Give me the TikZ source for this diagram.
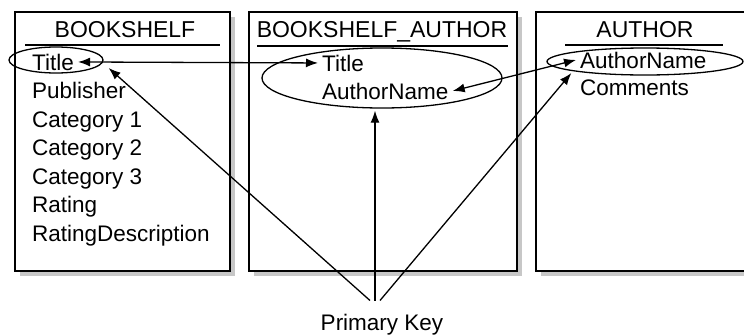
\documentclass[tikz,border=0pt]{standalone}
\usepackage{fontspec}
\setmainfont{Liberation Sans}
\usepackage{tikz}
\usetikzlibrary{shapes.geometric, arrows.meta, shadows}

\begin{document}
\begin{tikzpicture}[
    x=1pt, y=-1pt,
    tablebox/.style={rectangle, draw, line width=1.5pt, fill=white, minimum height=259pt,
        drop shadow={shadow xshift=5pt, shadow yshift=-5pt, fill=black!22, opacity=1}},
    header/.style={anchor=base, inner sep=0pt, font=\fontsize{23}{27}\selectfont},
    field/.style={anchor=base west, inner sep=4pt, font=\fontsize{22.5}{27}\selectfont},
    keyring/.style={ellipse, draw, line width=1.3pt, inner sep=0pt},
    rule/.style={line width=1.5pt},
    arrow/.style={-{Latex[length=12pt,width=9pt]}, line width=1.3pt},
    biarrow/.style={{Latex[length=12pt,width=9pt]}-{Latex[length=12pt,width=9pt]}, line width=1.3pt}
]
\useasboundingbox (0,0) rectangle (744,335);
\clip (0,0) rectangle (744,335);

% Tables
\node[tablebox, minimum width=215pt] (bookshelf) at (122.5,141.5) {};
\node[tablebox, minimum width=268pt] (bsauthor) at (383,141.5) {};
\node[tablebox, minimum width=216pt] (author) at (644,141.5) {};

% Table headers
\node[header] (hBookshelf) at (125,37) {BOOKSHELF};
\node[header] (hBsAuthor) at (382,37) {BOOKSHELF\_AUTHOR};
\node[header] (hAuthor) at (645,37) {AUTHOR};
\draw[rule] (25,45) -- (220,45);
\draw[rule] (257,46) -- (508,46);
\draw[rule] (565,45) -- (723,45);

% Key rings
\node[keyring, minimum width=94pt, minimum height=26pt] (keyBS) at (56,60) {};
\node[keyring, minimum width=240pt, minimum height=60pt] (keyBA) at (382,78) {};
\node[keyring, minimum width=196pt, minimum height=27pt] (keyAU) at (645,61.5) {};

% BOOKSHELF fields
\node[field] (bsTitle) at (28,70) {Title};
\node[field] (bsPublisher) at (28,98.5) {Publisher};
\node[field] (bsCat1) at (28,127) {Category 1};
\node[field] (bsCat2) at (28,155.5) {Category 2};
\node[field] (bsCat3) at (28,184) {Category 3};
\node[field] (bsRating) at (28,212.5) {Rating};
\node[field] (bsRatingDesc) at (28,241) {RatingDescription};

% BOOKSHELF_AUTHOR fields
\node[field] (baTitle) at (318,71) {Title};
\node[field] (baAuthor) at (318,99) {AuthorName};

% AUTHOR fields
\node[field] (auAuthor) at (576,68) {AuthorName};
\node[field] (auComments) at (576,95) {Comments};

% Links between tables
\draw[biarrow] (bsTitle.east) -- (baTitle.west);
\draw[biarrow] (baAuthor.east) -- (auAuthor.west);

% Primary key
\node[field, anchor=base] (pk) at (382,330) {Primary Key};
\draw[arrow] ([xshift=-12pt,yshift=9pt]pk.north) -- ([shift={(5,8)}]keyBS.east);
\draw[arrow] ([xshift=-7pt,yshift=9pt]pk.north) -- ([shift={(-7,2)}]keyBA.south);
\draw[arrow] ([xshift=-2pt,yshift=9pt]pk.north) -- ([shift={(25,11.5)}]keyAU.west);

\end{tikzpicture}
\end{document}
